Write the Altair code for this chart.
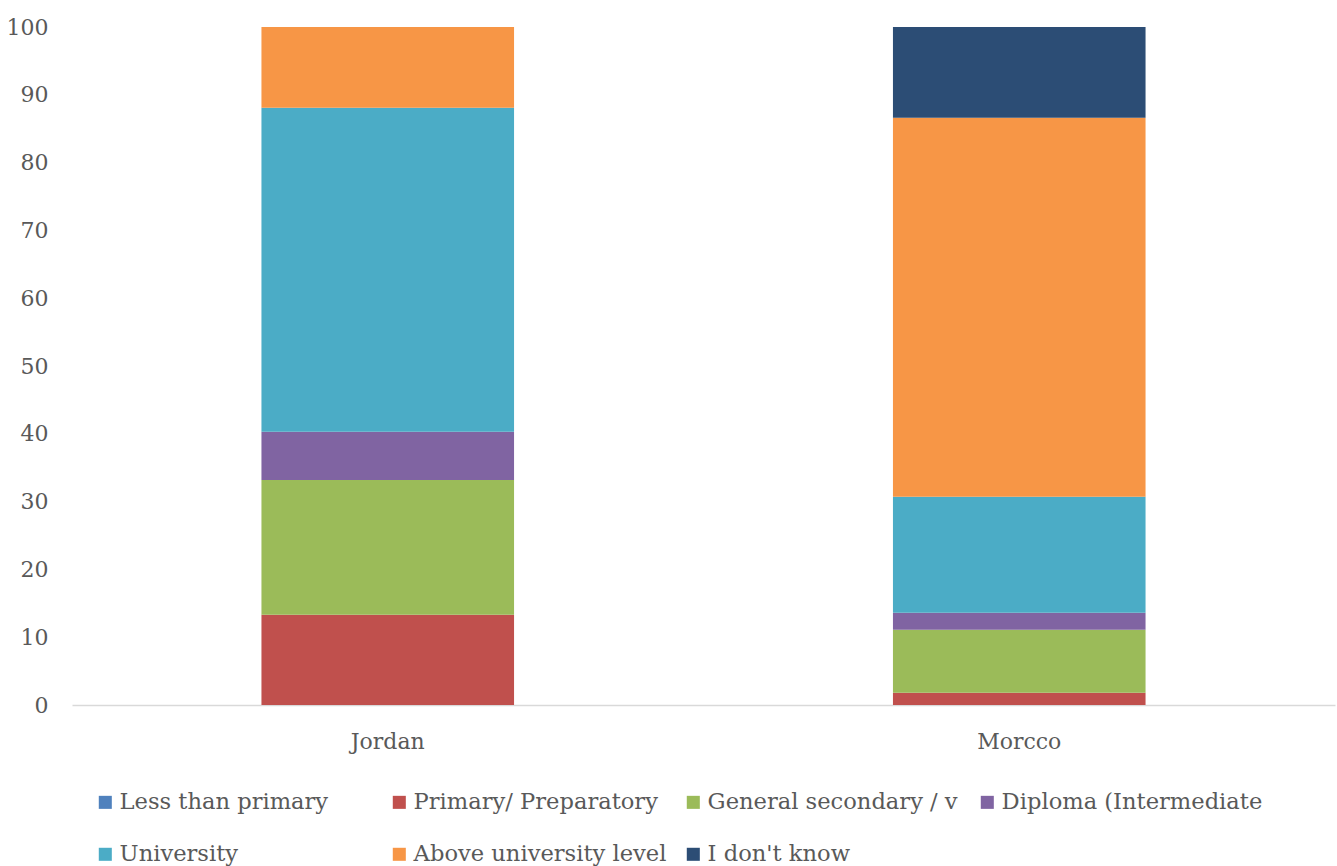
import altair as alt
import pandas as pd

countries = ["Jordan", "Morcco"]
levels = [
    "Less than primary",
    "Primary/ Preparatory",
    "General secondary / v",
    "Diploma (Intermediate",
    "University",
    "Above university level",
    "I don't know",
]
colors = ["#4F81BD", "#C0504D", "#9BBB59", "#8064A2", "#4BACC6", "#F79646", "#2C4D75"]

jordan = [0.0, 13.3, 19.9, 7.1, 47.8, 11.9, 0.0]
morocco = [0.0, 1.8, 9.3, 2.5, 17.1, 55.9, 13.4]

rows = []
for country, vals in zip(countries, [jordan, morocco]):
    for i, (lvl, v) in enumerate(zip(levels, vals)):
        rows.append({"country": country, "level": lvl, "value": v, "idx": i})
df = pd.DataFrame(rows)

FONT = "DejaVu Serif"
GREY = "#595959"

chart = (
    alt.Chart(df)
    .mark_bar()
    .encode(
        x=alt.X(
            "country:N",
            sort=countries,
            title=None,
            scale=alt.Scale(paddingInner=0.6, paddingOuter=0.3),
            axis=alt.Axis(
                labelAngle=0,
                ticks=False,
                domainColor="#d9d9d9",
                domainWidth=1.5,
                labelPadding=26,
            ),
        ),
        y=alt.Y(
            "value:Q",
            stack="zero",
            title=None,
            scale=alt.Scale(domain=[0, 100], nice=False),
            axis=alt.Axis(
                values=list(range(0, 101, 10)),
                grid=False,
                domain=False,
                ticks=False,
                labelPadding=24,
            ),
        ),
        color=alt.Color(
            "level:N",
            sort=levels,
            scale=alt.Scale(domain=levels, range=colors),
            legend=alt.Legend(
                title=None,
                orient="none",
                direction="horizontal",
                legendX=22,
                legendY=764,
                columns=4,
                gridAlign="all",
                symbolType="square",
                symbolSize=170,
                symbolStrokeWidth=0,
                labelOffset=3,
                labelLimit=320,
                columnPadding=7,
                rowPadding=29,
            ),
        ),
        order=alt.Order("idx:Q", sort="ascending"),
    )
    .properties(
        width=1263,
        height=678,
        padding={"left": 72, "top": 27, "right": 2, "bottom": 161},
        autosize=alt.AutoSizeParams(type="none"),
    )
    .configure_view(stroke=None)
    .configure_axis(labelFont=FONT, labelFontSize=22, labelColor=GREY)
    .configure_legend(labelFont=FONT, labelFontSize=22.6, labelColor=GREY)
)

chart.save("out.html", embed_options={"renderer": "svg", "actions": False})
